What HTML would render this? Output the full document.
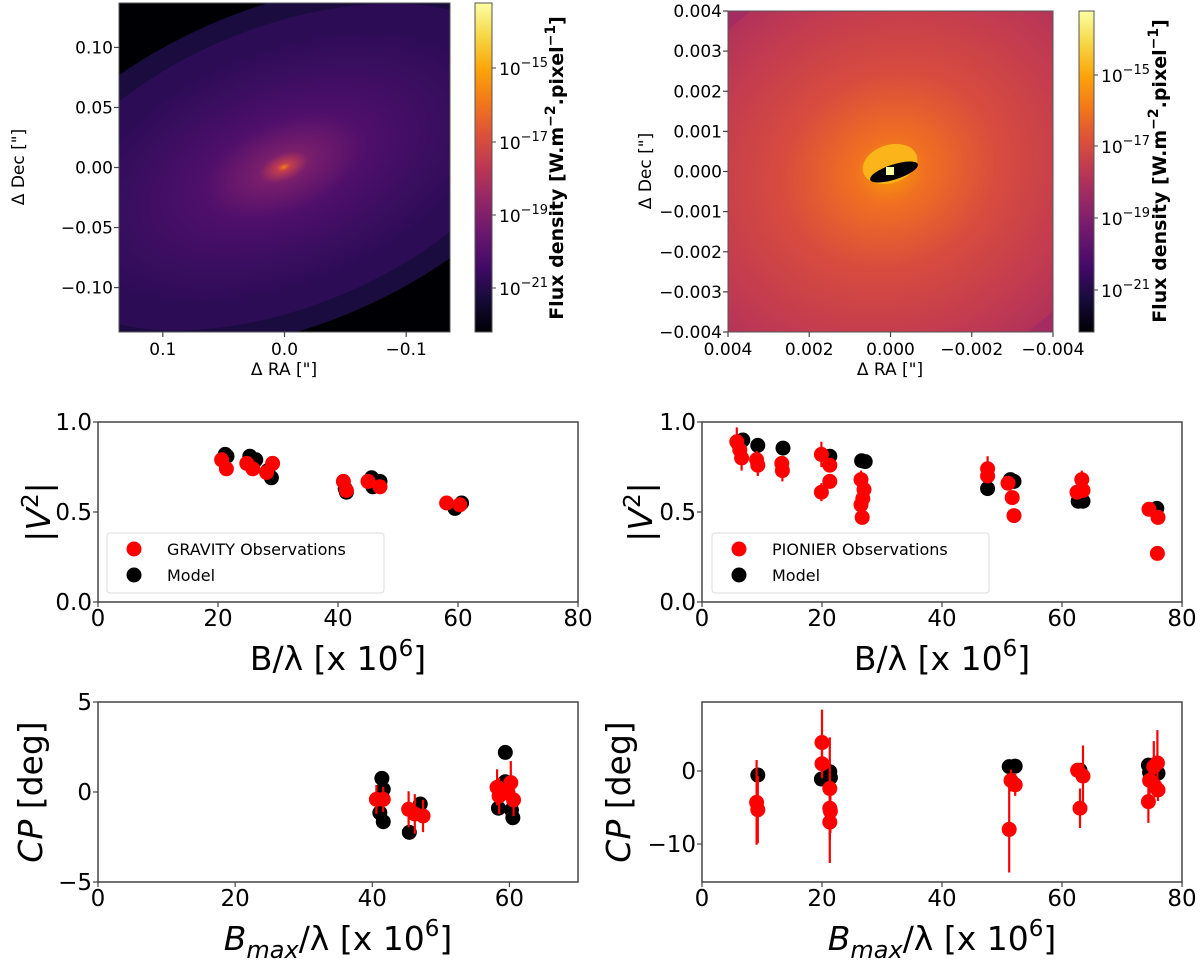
<!DOCTYPE html>
<html><head><meta charset="utf-8"><style>
html,body{margin:0;padding:0;background:#fff;}
svg{display:block;font-family:"DejaVu Sans","Liberation Sans",sans-serif;}
</style></head><body>
<svg id="fig" width="1200" height="963" viewBox="0 0 1200 963" xmlns="http://www.w3.org/2000/svg">
<defs>
<linearGradient id="inferno" x1="0" y1="1" x2="0" y2="0">
<stop offset="0" stop-color="#000004"/><stop offset="0.1" stop-color="#160b39"/><stop offset="0.2" stop-color="#420a68"/><stop offset="0.3" stop-color="#6a176e"/><stop offset="0.4" stop-color="#932667"/><stop offset="0.5" stop-color="#bc3754"/><stop offset="0.6" stop-color="#dd513a"/><stop offset="0.7" stop-color="#f37819"/><stop offset="0.8" stop-color="#fca50a"/><stop offset="0.9" stop-color="#f6d746"/><stop offset="1" stop-color="#fcffa4"/>
</linearGradient>
<radialGradient id="glowL" cx="0.5" cy="0.5" r="0.5">
<stop offset="0" stop-color="#f57d15"/><stop offset="0.03" stop-color="#c33e4f"/><stop offset="0.12" stop-color="#7a1e6c"/><stop offset="0.4" stop-color="#4f0f6b"/><stop offset="0.75" stop-color="#3a0e60"/><stop offset="1" stop-color="#2f0c58"/>
</radialGradient>
<radialGradient id="glowR" cx="0.5" cy="0.5" r="0.5">
<stop offset="0" stop-color="#fb9b06"/><stop offset="0.15" stop-color="#f07021"/><stop offset="0.45" stop-color="#d84c3e"/><stop offset="0.8" stop-color="#c23b50"/><stop offset="1" stop-color="#b2325a"/>
</radialGradient>
<clipPath id="clipL"><rect x="119" y="3" width="331" height="329"/></clipPath>
<clipPath id="clipR"><rect x="728" y="11" width="325" height="321"/></clipPath>
</defs>

<g clip-path="url(#clipL)">
<rect x="119" y="3" width="331" height="329" fill="#000004"/>
<ellipse cx="284" cy="167" rx="300" ry="160" transform="rotate(-22 284 167)" fill="#1b0c40"/>
<ellipse cx="284" cy="167" rx="265" ry="140" transform="rotate(-22 284 167)" fill="#2c0c55"/>
<ellipse cx="284" cy="167" rx="215" ry="115" transform="rotate(-22 284 167)" fill="url(#glowL)"/>
</g>
<rect x="119" y="3" width="331" height="329" fill="none" stroke="#555" stroke-width="1"/>

<g clip-path="url(#clipR)">
<rect x="728" y="11" width="325" height="321" fill="#a62b61"/>
<ellipse cx="890" cy="171" rx="240" ry="210" transform="rotate(-25 890 171)" fill="url(#glowR)"/>
<ellipse cx="890" cy="164" rx="28" ry="19" transform="rotate(-18 890 164)" fill="#fbb41a"/>
<ellipse cx="894" cy="172" rx="25" ry="7.5" transform="rotate(-18 894 172)" fill="#000004"/>
<rect x="886" y="167" width="8" height="8" fill="#fcffa4"/>
</g>
<rect x="728" y="11" width="325" height="321" fill="none" stroke="#555" stroke-width="1"/>

<rect x="475" y="3" width="17" height="329" fill="url(#inferno)" stroke="#555"/>
<rect x="1079" y="11" width="15" height="321" fill="url(#inferno)" stroke="#555"/>

<g id="plots"></g>
</svg>
<script>
// ---- data: GRAVITY V2 (middle-left)
const gvObsX=[20.6,21.4,24.8,25.8,28.1,29.1,40.9,41.4,45.0,47.0,58.1,60.3];
const gvObsY=[0.79,0.74,0.77,0.74,0.72,0.77,0.67,0.62,0.67,0.64,0.55,0.54];
const gvModX=[21.2,21.5,25.3,26.3,28.3,28.9,41.2,41.4,45.6,45.8,47.0,59.5,60.6];
const gvModY=[0.82,0.81,0.81,0.79,0.73,0.69,0.63,0.61,0.69,0.64,0.67,0.52,0.55];
// ---- PIONIER V2 (middle-right)
const pvObsX=[5.8,6.3,6.6,9.1,9.3,13.3,13.4,19.9,19.9,21.3,21.3,26.5,27.0,26.8,26.5,26.7,47.6,47.6,51.0,51.7,52.0,62.5,63.3,63.5,74.5,76.0,75.9];
const pvObsY=[0.89,0.845,0.80,0.79,0.76,0.77,0.73,0.82,0.61,0.76,0.67,0.68,0.625,0.575,0.54,0.47,0.74,0.70,0.66,0.58,0.48,0.61,0.68,0.62,0.515,0.47,0.27];
const pvObsErr=[0.08,0.03,0.07,0.05,0.06,0.03,0.06,0.07,0.05,0.04,0.04,0.05,0.03,0.03,0.03,0.03,0.07,0.03,0.04,0.03,0.03,0.03,0.05,0.03,0.03,0.03,0.01];
const pvModX=[6.05,6.8,9.3,13.5,21.3,26.6,27.2,47.6,51.4,52.0,62.7,63.5,75.8];
const pvModY=[0.88,0.90,0.87,0.855,0.81,0.785,0.78,0.63,0.68,0.67,0.56,0.56,0.52];
// ---- GRAVITY CP (bottom-left)
const gcObsX=[40.6,41.6,45.3,46.2,47.4,58.2,58.5,60.2,60.6,59.8];
const gcObsY=[-0.41,-0.41,-0.96,-1.22,-1.33,0.26,-0.22,0.52,-0.44,-0.05];
const gcObsErr=[0.8,0.7,1.0,1.1,0.9,1.0,1.0,1.2,0.9,0.6];
const gcModX=[41.4,41.6,41.1,41.6,45.4,47.0,46.7,59.4,58.4,60.3,60.5,59.4];
const gcModY=[0.76,0.15,-1.15,-1.65,-2.24,-0.67,-1.19,2.2,-0.9,-1.0,-1.43,0.57];
// ---- PIONIER CP (bottom-right)
const pcObsX=[9.1,9.3,20.0,20.0,21.3,21.3,21.4,21.3,51.2,51.5,52.2,63.0,62.6,63.5,74.4,74.6,75.3,75.9,75.5,76.0];
const pcObsY=[-4.3,-5.3,3.9,1.0,-2.4,-5.1,-5.5,-7.0,-8.0,-1.3,-1.9,-5.1,0.1,-0.7,-4.2,-1.3,0.6,1.1,-2.1,-2.6];
const pcObsErr=[5.8,4.6,4.5,2.0,7.0,3.0,3.0,5.6,5.9,1.5,1.5,2.7,1.0,4.2,2.9,2.0,3.5,4.5,1.5,1.5];
const pcModX=[9.3,19.9,21.3,21.4,51.2,52.2,63.0,74.4,74.6,76.0];
const pcModY=[-0.55,-1.1,-0.1,-0.9,0.6,0.66,0.1,0.8,-0.2,-0.3];
// ticks
const v2Ticks=[0,0.5,1.0];
const v2TickLbl=["0.0","0.5","1.0"];
const blTicks=[0,20,40,60,80];
const cpLTicks=[-5,0,5];
const cpLX=[0,20,40,60];
const cpRTicks=[-10,0];
const imgLTicks=[-0.10,-0.05,0.00,0.05,0.10];
const imgLTickLbl=["\u22120.10","\u22120.05","0.00","0.05","0.10"];
const imgLXTicks=[0.1,0.0,-0.1];
const imgLXLbl=["0.1","0.0","\u22120.1"];
const imgRTicks=[-0.004,-0.003,-0.002,-0.001,0,0.001,0.002,0.003,0.004];
const imgRTickLbl=["\u22120.004","\u22120.003","\u22120.002","\u22120.001","0.000","0.001","0.002","0.003","0.004"];
const imgRXTicks=[0.004,0.002,0,-0.002,-0.004];
const imgRXLbl=["0.004","0.002","0.000","\u22120.002","\u22120.004"];
const cbExp=["15","17","19","21"];
const cbLPos=[68,142,215,288];
const cbRPos=[75,146,218,290];

const NS="http://www.w3.org/2000/svg";
const plots=document.getElementById('plots');
function mk(tag,attrs,parent){const e=document.createElementNS(NS,tag);for(const k in attrs)e.setAttribute(k,attrs[k]);(parent||plots).appendChild(e);return e;}
function txt(s,attrs,parent){const e=mk('text',attrs,parent);e.textContent=s;return e;}

function axes(name,x0,x1,y0,y1,xmin,xmax,ymin,ymax){
  const g=mk('g',{});
  
  
  const fx=v=>x0+(v-xmin)/(xmax-xmin)*(x1-x0);
  const fy=v=>y1-(v-ymin)/(ymax-ymin)*(y1-y0);
  return {g,fx,fy,x0,x1,y0,y1};
}
function frame(A){
  const r=mk('rect',{x:A.x0,y:A.y0,width:A.x1-A.x0,height:A.y1-A.y0,fill:'none',stroke:'#444','stroke-width':1.5},A.g);
  
  
}
function xticks(A,vals,lbls,fs,base){
  vals.forEach((v,i)=>{const x=A.fx(v);
    mk('line',{x1:x,x2:x,y1:A.y1,y2:A.y1+5,stroke:'#444','stroke-width':1.2},A.g);
    const t=txt(lbls[i],{x:x,y:base,'font-size':fs,'text-anchor':'middle'},A.g);
    
    });
}
function yticks(A,vals,lbls,fs,dy){
  vals.forEach((v,i)=>{const y=A.fy(v);
    mk('line',{x1:A.x0-5,x2:A.x0,y1:y,y2:y,stroke:'#444','stroke-width':1.2},A.g);
    const t=txt(lbls[i],{x:A.x0-6,y:y+dy,'font-size':fs,'text-anchor':'end'},A.g);
    
    });
}
function points(A,xs,ys,color,name){
  xs.forEach((v,i)=>{const c=mk('circle',{cx:A.fx(v),cy:A.fy(ys[i]),r:7.5,fill:color},A.g);
    
    });
}
function errs(A,xs,ys,es){
  xs.forEach((v,i)=>{const x=A.fx(v);const l=mk('line',{x1:x,x2:x,y1:A.fy(ys[i]-es[i]),y2:A.fy(ys[i]+es[i]),stroke:'#f00','stroke-width':2.2},A.g);
    
    });
}
function legend(A,x,y,label){
  const g=mk('g',{},A.g);
  
  
  mk('rect',{x:x,y:y,width:277,height:60,rx:3,fill:'#fff',stroke:'#ddd','stroke-width':1},g);
  mk('circle',{cx:x+27,cy:y+16,r:7.5,fill:'#f00'},g);
  mk('circle',{cx:x+27,cy:y+42,r:7.5,fill:'#000'},g);
  txt(label,{x:x+60,y:y+22,'font-size':16},g);
  txt('Model',{x:x+60,y:y+48,'font-size':16},g);
}
function xlabel(A,base,sub){
  const t=mk('text',{x:(A.x0+A.x1)/2,y:base,'font-size':33,'text-anchor':'middle'},A.g);
  
  
  if(sub){t.innerHTML='<tspan font-style="italic">B</tspan><tspan font-style="italic" font-size="24" dy="8">max</tspan><tspan dy="-8">/λ [x 10</tspan><tspan font-size="23" dy="-14">6</tspan><tspan dy="14">]</tspan>';}
  else{t.innerHTML='B/λ [x 10<tspan font-size="23" dy="-14">6</tspan><tspan dy="14">]</tspan>';}
}
function ylabel(A,x,cp){
  const cy=(A.y0+A.y1)/2;
  const t=mk('text',{x:x,y:cy,'font-size':33,'text-anchor':'middle',transform:`rotate(-90 ${x} ${cy})`},A.g);
  
  
  if(cp){t.innerHTML='<tspan font-style="italic">CP</tspan>  [deg]';}
  else{t.innerHTML='|<tspan font-style="italic">V</tspan><tspan font-size="23" dy="-12">2</tspan><tspan dy="12">|</tspan>';}
}

// middle-left
let A=axes('gravity-v2-plot',98,578,422,602,0,80,0,1);
frame(A);xticks(A,blTicks,blTicks.map(String),23,626);yticks(A,v2Ticks,v2TickLbl,23,8);
points(A,gvModX,gvModY,'#000','model-point');points(A,gvObsX,gvObsY,'#f00','gravity-observation');
legend(A,107,533,'GRAVITY Observations');xlabel(A,670,false);ylabel(A,50,false);
// middle-right
A=axes('pionier-v2-plot',702,1182,422,602,0,80,0,1);
frame(A);xticks(A,blTicks,blTicks.map(String),23,626);yticks(A,v2Ticks,v2TickLbl,23,8);
points(A,pvModX,pvModY,'#000','model-point');errs(A,pvObsX,pvObsY,pvObsErr);points(A,pvObsX,pvObsY,'#f00','pionier-observation');
legend(A,712,533,'PIONIER Observations');xlabel(A,670,false);ylabel(A,652,false);
// bottom-left
A=axes('gravity-cp-plot',98,578,702,882,0,70,-5,5);
frame(A);xticks(A,cpLX,cpLX.map(String),23,906);yticks(A,cpLTicks,["\u22125","0","5"],23,8);
points(A,gcModX,gcModY,'#000','model-point');errs(A,gcObsX,gcObsY,gcObsErr);points(A,gcObsX,gcObsY,'#f00','gravity-observation');
xlabel(A,950,true);ylabel(A,42,true);
// bottom-right
A=axes('pionier-cp-plot',702,1182,702,882,0,80,-15.2,9.45);
frame(A);xticks(A,blTicks,blTicks.map(String),23,906);yticks(A,cpRTicks,["\u221210","0"],23,8);
points(A,pcModX,pcModY,'#000','model-point');errs(A,pcObsX,pcObsY,pcObsErr);points(A,pcObsX,pcObsY,'#f00','pionier-observation');
xlabel(A,950,true);ylabel(A,630,true);

// top image axes
A=axes('image-left-axes',119,450,3,332,0.136,-0.136,-0.137,0.137);
yticks(A,imgLTicks,imgLTickLbl,17,6);xticks(A,imgLXTicks,imgLXLbl,17,355);
txt('Δ RA ["]',{x:284,y:375,'font-size':17,'text-anchor':'middle'},A.g);
txt('Δ Dec ["]',{x:24,y:167,'font-size':17,'text-anchor':'middle',transform:'rotate(-90 24 167)'},A.g);
A=axes('image-right-axes',728,1053,11,332,0.004,-0.004,-0.004,0.004);
yticks(A,imgRTicks,imgRTickLbl,17,6);xticks(A,imgRXTicks,imgRXLbl,17,355);
txt('Δ RA ["]',{x:890,y:375,'font-size':17,'text-anchor':'middle'},A.g);
txt('Δ Dec ["]',{x:651,y:171,'font-size':17,'text-anchor':'middle',transform:'rotate(-90 651 171)'},A.g);

// colorbar ticks & labels
function cbar(x,pos,lx,cy,name){
  const g=mk('g',{});
  
  
  pos.forEach((y,i)=>{mk('line',{x1:x,x2:x+4,y1:y,y2:y,stroke:'#444'},g);
    const t=mk('text',{x:x+7,y:y+7,'font-size':17},g);
    t.innerHTML='10<tspan font-size="13" dy="-8">\u2212'+cbExp[i]+'</tspan>';});
  const t=mk('text',{x:lx,y:cy,'font-size':19,'font-weight':'bold','text-anchor':'middle',transform:`rotate(-90 ${lx} ${cy})`},g);
  t.innerHTML='Flux density [W.m<tspan font-size="14" dy="-8">\u22122</tspan><tspan dy="8">.pixel</tspan><tspan font-size="14" dy="-8">\u22121</tspan><tspan dy="8">]</tspan>';
}
cbar(492,cbLPos,563,168,'colorbar-left-labels');
cbar(1094,cbRPos,1166,171,'colorbar-right-labels');
</script>
</body></html>
